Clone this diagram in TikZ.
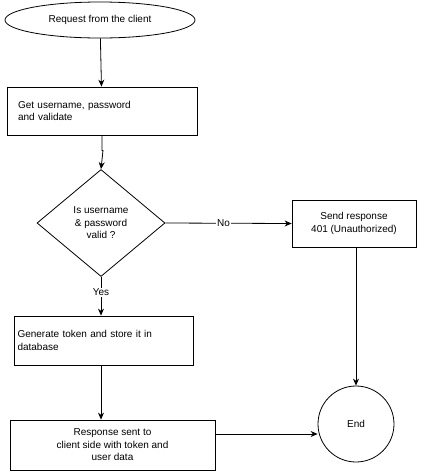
\documentclass[tikz,border=0pt]{standalone}
\usepackage{fontspec}
\setmainfont{Liberation Sans}
\usetikzlibrary{shapes.geometric,arrows.meta}
\begin{document}
\begin{tikzpicture}[x=1pt,y=-1pt,font=\fontsize{10}{12.5}\selectfont,
  box/.style={draw,thick,minimum width=#1,minimum height=48pt,align=center,inner sep=2pt},
  arr/.style={draw,thick,-{Stealth[length=7pt,width=6pt]}}]
\useasboundingbox (0,0) rectangle (423,475);
\node[draw,thick,ellipse,minimum width=190pt,minimum height=36pt] (start) at (100,20) {Request from the client};
\node[box=190pt,align=left,text width=168pt] (get) at (102,111) {Get username, password\\and validate};
\node[draw,thick,diamond,minimum width=128pt,minimum height=107pt,align=center,inner sep=0pt] (dec) at (101,223) {Is username\\\& password\\valid ?};
\node[box=124pt,minimum height=47pt] (resp) at (354,223.5) {Send response\\401 (Unauthorized)};
\node[box=179pt,minimum height=49pt,align=left,text width=172pt] (gen) at (103.5,340.5) {Generate token and store it in\\database};
\node[box=205pt,minimum height=50pt] (sent) at (112.5,445) {Response sent to\\client side with token and\\user data};
\node[draw,thick,circle,minimum size=76pt] (end) at (356,424) {End};
\draw[arr] (start) -- (get);
\draw[arr] (get.south) -- ++(0,15) -- ++(1,0) -- (dec.north);
\draw[arr] (dec.east) -- node[fill=white,inner sep=1pt,pos=0.46]{No} (resp.west);
\draw[arr] (dec.south) -- node[fill=white,inner sep=1pt,pos=0.4]{Yes} (gen.north -| dec.south);
\draw[arr] (gen.south -| dec.south) -- (sent.north -| dec.south);
\draw[arr] (resp.south -| end.north) -- (end.north);
\draw[arr] (sent.east |- 0,434) -- (end.west |- 0,434);
\end{tikzpicture}
\end{document}
